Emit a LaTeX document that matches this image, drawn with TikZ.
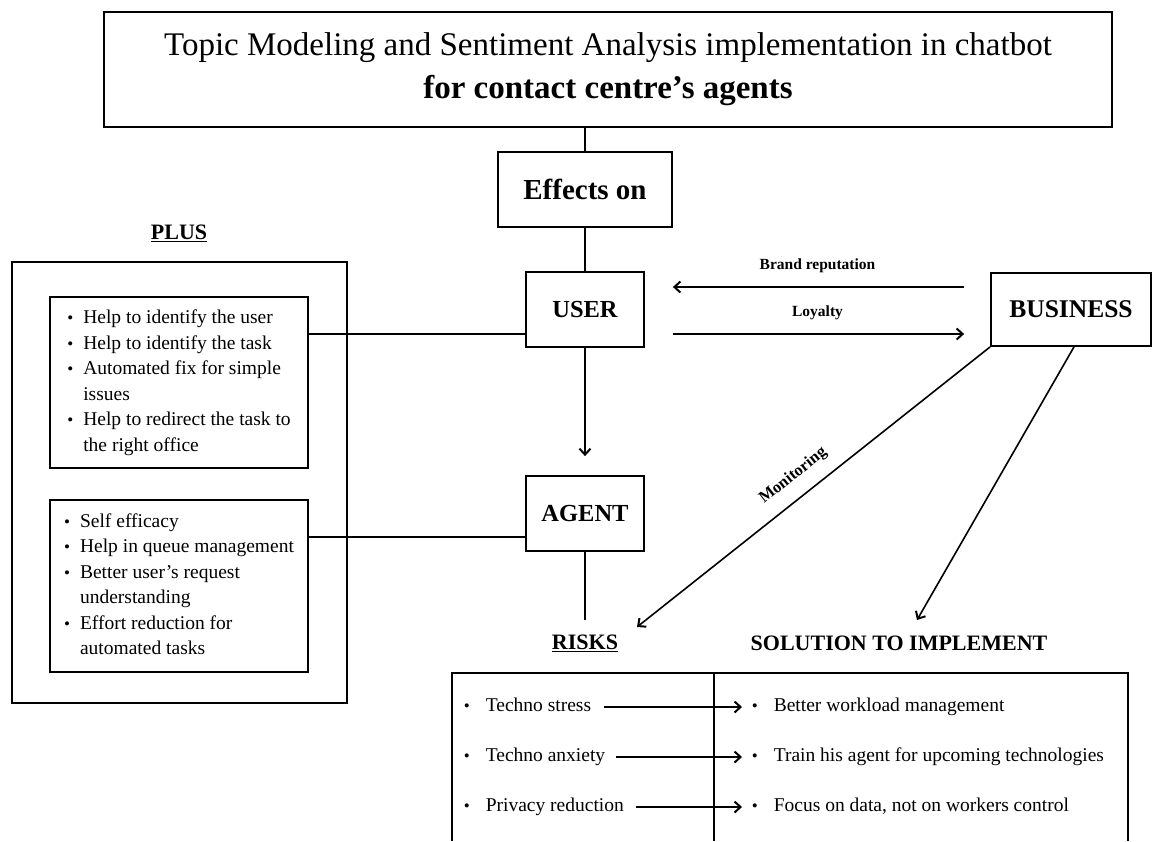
\documentclass[tikz,border=0pt]{standalone}
\usepackage{fontspec}
\setmainfont{Liberation Serif}
\usetikzlibrary{arrows.meta}
\newcommand\bulw[1]{\makebox[#1][l]{\fontsize{17}{17}\selectfont\textbullet}}
\begin{document}
\begin{tikzpicture}[x=1pt,y=-1pt,
  line width=1.6pt,
  box/.style={draw, line width=1.8pt, inner sep=0pt, align=center},
  arr/.style={-{Straight Barb[length=6pt,width=11pt,line width=2pt]}},
  lbl/.style={font=\bfseries\fontsize{15.5}{18}\selectfont, inner sep=0pt},
  bigb/.style={font=\bfseries\fontsize{24.5}{28}\selectfont},
  head/.style={font=\bfseries\fontsize{22}{26}\selectfont, inner sep=0pt},
  blist/.style={font=\fontsize{19.5}{25.5}\selectfont},
  rlist/.style={font=\fontsize{19.5}{25.5}\selectfont, inner sep=0pt, anchor=west, text height=14pt, text depth=5pt},
]
\useasboundingbox (0,0) rectangle (1153,841);

% title
\node[box, minimum width=1008, minimum height=115, font=\fontsize{33}{43}\selectfont] (title) at (608,69.5)
  {Topic Modeling and Sentiment Analysis implementation in chatbot\\ \textbf{for contact centre’s agents}};

% central column
\node[box, minimum width=174, minimum height=75, font=\bfseries\fontsize{29}{34}\selectfont] (effects) at (585,189.5) {Effects on};
\node[box, bigb, minimum width=118, minimum height=75] (user) at (585,309.5) {USER};
\node[box, bigb, minimum width=118, minimum height=75] (agent) at (585,513.5) {AGENT};
\node[box, minimum width=160, minimum height=73, font=\bfseries\fontsize{25.5}{30}\selectfont] (bus) at (1071,309.5) {BUSINESS};

\draw (effects.north) -- (effects.north |- title.south);
\draw (effects.south) -- (user.north);
\draw[arr, shorten >=19pt] (user.south) -- (agent.north);

% PLUS
\node[head] (plus) at (179,233) {\underline{PLUS}};
\node[box, minimum width=335, minimum height=441] (plusout) at (179.5,482.5) {};
\node[box, blist, minimum width=258, minimum height=171] (plus1) at (179,382.5) {%
  \begin{tabular}{@{}l@{}l@{}}
  \bulw{16pt} & Help to identify the user\\
  \bulw{16pt} & Help to identify the task\\
  \bulw{16pt} & Automated fix for simple\\
   & issues\\
  \bulw{16pt} & Help to redirect the task to\\
   & the right office
  \end{tabular}};
\node[box, blist, minimum width=258, minimum height=172] (plus2) at (179,586) {%
  \begin{tabular}{@{}l@{}l@{}}
  \bulw{16pt} & Self efficacy\\
  \bulw{16pt} & Help in queue management\\
  \bulw{16pt} & Better user’s request\\
   & understanding\\
  \bulw{16pt} & Effort reduction for\\
   & automated tasks
  \end{tabular}};

\coordinate (uL) at ([yshift=-24.5pt]user.west);
\draw (uL) -- (uL -| plus1.east);
\coordinate (aL) at ([yshift=-23.5pt]agent.west);
\draw (aL) -- (aL -| plus2.east);

% user <-> business
\coordinate (bA) at ([yshift=22.5pt]bus.west);
\draw[arr, shorten <=26pt, shorten >=28pt] (bA) -- (bA -| user.east)
  node[midway, lbl, above=13pt] {Brand reputation};
\coordinate (uB) at ([yshift=-24.5pt]user.east);
\draw[arr, shorten <=28pt, shorten >=26pt] (uB) -- (uB -| bus.west)
  node[midway, lbl, above=13pt] {Loyalty};

% risks / solutions labels
\node[head] (risks) at (585,643) {\underline{RISKS}};
\node[head] (sol) at (899,643) {SOLUTION TO IMPLEMENT};
\draw[shorten >=14pt] (agent.south) -- (risks.north);

\coordinate (monend) at (637,627);
\draw[arr] (bus.south west) -- node[lbl, font=\bfseries\fontsize{16.5}{19}\selectfont, sloped, above=13pt, pos=0.52] {Monitoring} (monend);
\coordinate (solend) at (917,620);
\draw[arr] ([xshift=3pt]bus.south) -- (solend);

% table
\draw[line width=1.8pt] (452,841) -- (452,673) -- (1128,673) -- (1128,841);
\draw[line width=1.8pt] (714,673) -- (714,841);

\node[rlist] (r1) at (463,707) {\bulw{22pt}Techno stress};
\node[rlist] (r2) at (463,757) {\bulw{22pt}Techno anxiety};
\node[rlist] (r3) at (463,807) {\bulw{22pt}Privacy reduction};
\node[rlist] (s1) at (751,707) {\bulw{22pt}Better workload management};
\node[rlist] (s2) at (751,757) {\bulw{22pt}Train his agent for upcoming technologies};
\node[rlist] (s3) at (751,807) {\bulw{22pt}Focus on data, not on workers control};

\draw[arr, shorten <=12pt, shorten >=9pt] (r1.east) -- (s1.west);
\draw[arr, shorten <=10pt, shorten >=9pt] (r2.east) -- (s2.west);
\draw[arr, shorten <=11pt, shorten >=9pt] (r3.east) -- (s3.west);
\end{tikzpicture}
\end{document}
